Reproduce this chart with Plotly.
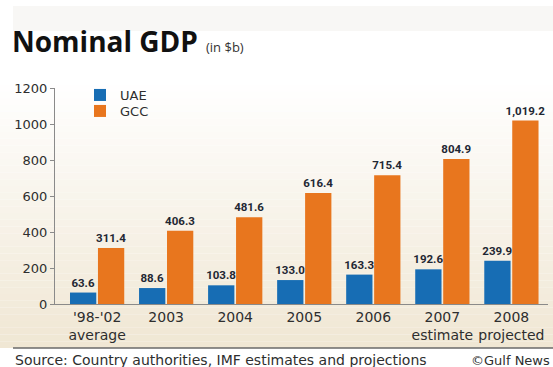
import plotly.graph_objects as go

categories = ["'98-'02<br>average", "2003", "2004", "2005", "2006", "2007<br>estimate", "2008<br>projected"]
uae_values = [63.6, 88.6, 103.8, 133.0, 163.3, 192.6, 239.9]
gcc_values = [311.4, 406.3, 481.6, 616.4, 715.4, 804.9, 1019.2]
y_ticks = [0, 200, 400, 600, 800, 1000, 1200]

W, H = 553, 367
L, R, T, B = 55, 5, 88, 63
PW, PH = W - L - R, H - T - B


def px_x(px):
    return (px - L) / PW


def px_y(py):
    return (H - B - py) / PH


BLUE = "#176db4"
ORANGE = "#e8761e"
LABEL = "#1f2733"
FONT = "Open Sans"
FONT2 = "DejaVu Sans"
LABFONT = "Roboto"
TXT = "#2e2e2e"

xpos = list(range(len(categories)))

fig = go.Figure()
fig.add_trace(go.Bar(
    x=xpos, y=uae_values, name="UAE", legend="legend", marker=dict(color=BLUE, line=dict(width=0)),
    texttemplate="<b>%{y:,.1f}</b>", textposition="outside", constraintext="none",
    textfont=dict(family=LABFONT, size=11.5, color=LABEL), cliponaxis=False,
))
fig.add_trace(go.Bar(
    x=xpos, y=gcc_values, name="GCC", legend="legend2", marker=dict(color=ORANGE, line=dict(width=0)),
    texttemplate="<b>%{y:,.1f}</b>", textposition="outside", constraintext="none",
    textfont=dict(family=LABFONT, size=11.5, color=LABEL), cliponaxis=False,
))

# background gradient (white at top -> cream at bottom)
shapes = []
n = 40
top_c = (255, 255, 255)
bot_c = (240, 231, 212)
y_top, y_bot = px_y(78), px_y(348)
for i in range(n):
    t = i / (n - 1)
    c = tuple(int(round(top_c[k] + (bot_c[k] - top_c[k]) * t)) for k in range(3))
    y0 = y_top + (y_bot - y_top) * i / n
    y1 = y_top + (y_bot - y_top) * (i + 1) / n
    shapes.append(dict(type="rect", xref="paper", yref="paper", x0=px_x(0), x1=px_x(W),
                       y0=y1, y1=y0, fillcolor="rgb(%d,%d,%d)" % c, line=dict(width=0), layer="below"))
# light top strip
shapes.append(dict(type="rect", xref="paper", yref="paper", x0=px_x(13), x1=px_x(W + 2),
                   y0=px_y(31), y1=px_y(6), fillcolor="#f8f7f5", line=dict(width=0), layer="below"))
# separator line above source
shapes.append(dict(type="line", xref="paper", yref="paper", x0=px_x(13), x1=px_x(W),
                   y0=px_y(348), y1=px_y(348), line=dict(color="#6a6a6a", width=1.5)))

annotations = [
    dict(xref="paper", yref="paper", x=px_x(10), y=px_y(62), xanchor="left", yanchor="bottom",
         text="<b>Nominal GDP</b>", showarrow=False,
         font=dict(family=FONT, size=28, color="#111111")),
    dict(xref="paper", yref="paper", x=px_x(204), y=px_y(58), xanchor="left", yanchor="bottom",
         text="(in $b)", showarrow=False,
         font=dict(family=FONT, size=13, color="#333333")),
    dict(xref="paper", yref="paper", x=px_x(13), y=px_y(360), xanchor="left", yanchor="middle",
         text="Source: Country authorities, IMF estimates and projections", showarrow=False,
         font=dict(family=FONT2, size=14, color=TXT)),
    dict(xref="paper", yref="paper", x=px_x(469), y=px_y(360), xanchor="left", yanchor="middle",
         text="©Gulf News", showarrow=False,
         font=dict(family=FONT2, size=13, color=TXT)),
]

leg_common = dict(xanchor="left", yanchor="middle", bgcolor="rgba(0,0,0,0)",
                  font=dict(family=FONT2, size=13, color=TXT), itemwidth=30)

fig.update_layout(
    width=W, height=H,
    margin=dict(l=L, r=R, t=T, b=B, pad=0),
    paper_bgcolor="white", plot_bgcolor="rgba(0,0,0,0)",
    barmode="group", bargap=0.19, bargroupgap=0.06,
    font=dict(family=FONT2, size=13, color=TXT),
    showlegend=True,
    legend=dict(x=px_x(80), y=px_y(95), **leg_common),
    legend2=dict(x=px_x(80), y=px_y(111), **leg_common),
    shapes=shapes, annotations=annotations,
    xaxis=dict(range=[-0.61, 6.53], tickmode="array", tickvals=xpos, ticktext=categories,
               showgrid=False, zeroline=False, showline=True, linecolor="#8a8a8a", linewidth=1,
               ticks="", tickfont=dict(family=FONT2, size=14, color=TXT), fixedrange=True),
    yaxis=dict(range=[0, 1200], tickmode="array", tickvals=y_ticks,
               showgrid=False, zeroline=False, showline=True, linecolor="#8a8a8a", linewidth=1,
               ticks="outside", ticklen=4, tickcolor="#8a8a8a",
               tickfont=dict(family=FONT2, size=13, color=TXT), fixedrange=True),
)

fig.write_html("out.html", post_script="document.body.style.margin='0';",
               config={"displayModeBar": False})
